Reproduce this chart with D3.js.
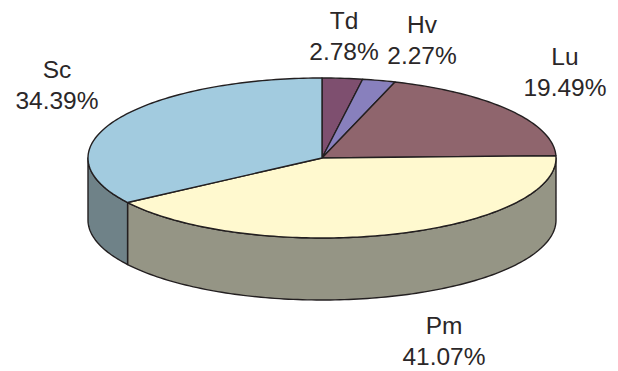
<!DOCTYPE html>
<html>
<head>
<meta charset="utf-8">
<script src="https://cdn.jsdelivr.net/npm/d3@7"></script>
<style>
  html, body { margin: 0; padding: 0; background: #fff; }
  svg { display: block; }
  text { font-family: "Liberation Sans", Arial, sans-serif; font-size: 24.5px; fill: #2b2728; text-anchor: middle; }
</style>
</head>
<body>
<div id="chart"></div>
<script>
const categories = ['Td', 'Hv', 'Lu', 'Pm', 'Sc'];
const shares = [2.78, 2.27, 19.49, 41.07, 34.39];
const topColors = ['#7e4f6f', '#8880bd', '#8f656d', '#fff9cf', '#a2cbdf'];
const sideColors = ['#5e3b53', '#66608e', '#6b4c52', '#959585', '#6f8288'];

const width = 618, height = 371;
const center = { x: 322, y: 158 };
const radius = { x: 234, y: 80 };
const depth = 62;
const stroke = '#231f20';

// labels sit by hand, the original ones do not follow a rule
const labelPos = {
  Td: [344, 29],
  Hv: [422, 33],
  Lu: [565, 65],
  Sc: [57, 78],
  Pm: [444, 334]
};
const lineGap = 31;

const svg = d3.select('#chart').append('svg')
  .attr('width', width)
  .attr('height', height);

const x = d3.scaleLinear().domain([-1, 1]).range([center.x - radius.x, center.x + radius.x]);
const y = d3.scaleLinear().domain([-1, 1]).range([center.y + radius.y, center.y - radius.y]);

const pie = d3.pie().sort(null).value(d => d.share);
const slices = pie(categories.map((name, i) => ({ name, share: shares[i], i })));

const line = d3.line()
  .x(d => x(Math.sin(d)))
  .y(d => y(Math.cos(d)));

// lower edge is the same curve moved down by the depth
const wall = d3.area()
  .x(d => x(Math.sin(d)))
  .y0(d => y(Math.cos(d)))
  .y1(d => y(Math.cos(d)) + depth);

const arcAngles = (a0, a1) => {
  const n = Math.max(2, Math.ceil((a1 - a0) / 0.02));
  return d3.range(n + 1).map(i => a0 + (a1 - a0) * i / n);
};

// side wall, only the front half of the ellipse shows
const front = [Math.PI / 2, Math.PI * 1.5];
slices.forEach(s => {
  const a0 = Math.max(s.startAngle, front[0]);
  const a1 = Math.min(s.endAngle, front[1]);
  if (a0 >= a1) return;
  svg.append('path')
    .attr('d', wall(arcAngles(a0, a1)))
    .attr('fill', sideColors[s.data.i])
    .attr('stroke', stroke)
    .attr('stroke-width', 1.4)
    .attr('stroke-linejoin', 'round');
});

// top face
slices.forEach(s => {
  const edge = line(arcAngles(s.startAngle, s.endAngle));
  svg.append('path')
    .attr('d', `M${x(0)},${y(0)}L${edge.slice(1)}Z`)
    .attr('fill', topColors[s.data.i])
    .attr('stroke', stroke)
    .attr('stroke-width', 1.4)
    .attr('stroke-linejoin', 'round');
});

slices.forEach(s => {
  const [lx, ly] = labelPos[s.data.name];
  const label = svg.append('text').attr('x', lx).attr('y', ly);
  label.append('tspan').attr('x', lx).text(s.data.name);
  label.append('tspan').attr('x', lx).attr('dy', lineGap).text(d3.format('.2f')(s.data.share) + '%');
});
</script>
</body>
</html>
